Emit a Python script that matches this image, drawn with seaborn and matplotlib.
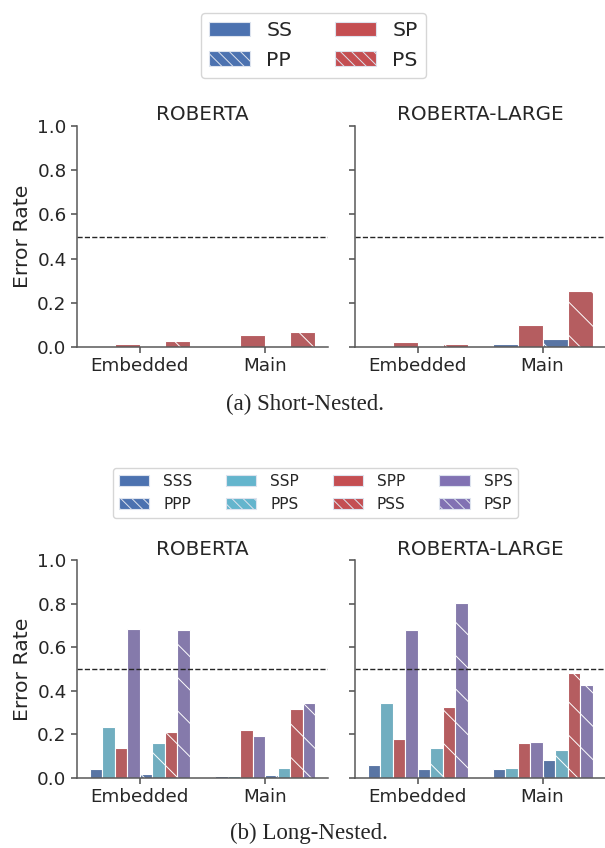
import pandas as pd
import seaborn as sns
import matplotlib.pyplot as plt
import matplotlib.patches as mpatches

# 값은 그림에서 눈으로 읽은 값
positions = ["Embedded", "Main"]
models = ["ROBERTA", "ROBERTA-LARGE"]

# (a) Short-Nested : 막대 순서 SS, SP, PP, PS
short_levels = ["SS", "SP", "PP", "PS"]
short_roberta_embedded = [0.0, 0.014, 0.0, 0.028]
short_roberta_main = [0.006, 0.054, 0.0, 0.069]
short_large_embedded = [0.0, 0.023, 0.0, 0.014]
short_large_main = [0.014, 0.098, 0.038, 0.252]

# (b) Long-Nested
long_levels = ["SSS", "SSP", "SPP", "SPS", "PPP", "PPS", "PSS", "PSP"]
long_roberta_embedded = [0.038, 0.232, 0.137, 0.684, 0.017, 0.161, 0.209, 0.678]
long_roberta_main = [0.006, 0.006, 0.219, 0.192, 0.014, 0.044, 0.317, 0.345]
long_large_embedded = [0.057, 0.342, 0.176, 0.678, 0.041, 0.137, 0.325, 0.802]
long_large_main = [0.038, 0.044, 0.161, 0.164, 0.081, 0.129, 0.480, 0.425]

sns.set_theme(style="ticks")
plt.rcParams['font.family'] = ['DejaVu Sans']
plt.rcParams['hatch.linewidth'] = 0.7

deep = sns.color_palette("deep")
blue, red, cyan, purple = deep[0], deep[3], deep[9], deep[4]

short_colors = {"SS": blue, "SP": red, "PP": blue, "PS": red}
short_hatched = ["PP", "PS"]
long_colors = {"SSS": blue, "SSP": cyan, "SPP": red, "SPS": purple,
               "PPP": blue, "PPS": cyan, "PSS": red, "PSP": purple}
long_hatched = ["PPP", "PPS", "PSS", "PSP"]


def draw_panel(ax, levels, embedded, main, colors, hatched, title, show_ylabel):
    n = len(levels)
    df = pd.DataFrame({
        "position": [positions[0]] * n + [positions[1]] * n,
        "type": levels + levels,
        "rate": embedded + main,
    })
    sns.barplot(data=df, x="position", y="rate", hue="type", hue_order=levels,
                palette=colors, edgecolor="white", linewidth=0.8,
                errorbar=None, legend=False, ax=ax)
    for level, bars in zip(levels, ax.containers):
        if level in hatched:
            for bar in bars:
                bar.set_hatch("\\")
    ax.axhline(0.5, color="0.15", ls="--", lw=1)
    ax.set_ylim(0, 1)
    ax.set_xlim(-0.5, 1.5)
    ax.set_yticks([0, 0.2, 0.4, 0.6, 0.8, 1.0])
    ax.set_xlabel("")
    ax.set_title(title, fontsize=14.3, pad=4)
    ax.tick_params(labelsize=13.2, length=4, width=1.1, color="0.3")
    for s in ["left", "bottom"]:
        ax.spines[s].set_color("0.35")
        ax.spines[s].set_linewidth(1.1)
    if show_ylabel:
        ax.set_ylabel("Error Rate", fontsize=14.7)
    else:
        ax.set_ylabel("")
        ax.set_yticklabels([])
    sns.despine(ax=ax)


def legend_handles(order, colors, hatched):
    handles = []
    for name in order:
        handles.append(mpatches.Patch(facecolor=colors[name], edgecolor="#dde3ee", lw=0.8,
                                      hatch="\\\\\\" if name in hatched else None,
                                      label=name))
    return handles


W, H = 605, 848
fig = plt.figure(figsize=(W / 100, H / 100), dpi=100)

# (a) 위쪽 그림
ax1 = fig.add_axes([77 / W, 1 - 347 / H, 251 / W, 221 / H])
ax2 = fig.add_axes([355 / W, 1 - 347 / H, 250 / W, 221 / H])
draw_panel(ax1, short_levels, short_roberta_embedded, short_roberta_main,
           short_colors, short_hatched, models[0], True)
draw_panel(ax2, short_levels, short_large_embedded, short_large_main,
           short_colors, short_hatched, models[1], False)

fig.legend(handles=legend_handles(["SS", "PP", "SP", "PS"], short_colors, short_hatched),
           loc="center", bbox_to_anchor=(313.5 / W, 1 - 45.5 / H), ncol=2,
           fontsize=14.7, handlelength=2.0, handleheight=0.7, columnspacing=2.1,
           handletextpad=0.8)
fig.text(305 / W, 1 - 404 / H, "(a) Short-Nested.", ha="center", va="center",
         fontsize=16.5, family=["Liberation Serif"])

# (b) 아래쪽 그림
ax3 = fig.add_axes([77 / W, 1 - 777.7 / H, 251 / W, 217.4 / H])
ax4 = fig.add_axes([355 / W, 1 - 777.7 / H, 250 / W, 217.4 / H])
draw_panel(ax3, long_levels, long_roberta_embedded, long_roberta_main,
           long_colors, long_hatched, models[0], True)
draw_panel(ax4, long_levels, long_large_embedded, long_large_main,
           long_colors, long_hatched, models[1], False)

fig.legend(handles=legend_handles(["SSS", "PPP", "SSP", "PPS", "SPP", "PSS", "SPS", "PSP"],
                                  long_colors, long_hatched),
           loc="center", bbox_to_anchor=(315.5 / W, 1 - 493 / H), ncol=4,
           fontsize=11, handlelength=2.0, handleheight=0.7, columnspacing=2.2,
           handletextpad=0.9)
fig.text(309 / W, 1 - 833 / H, "(b) Long-Nested.", ha="center", va="center",
         fontsize=16.5, family=["Liberation Serif"])

fig.savefig("out.png", dpi=100)
